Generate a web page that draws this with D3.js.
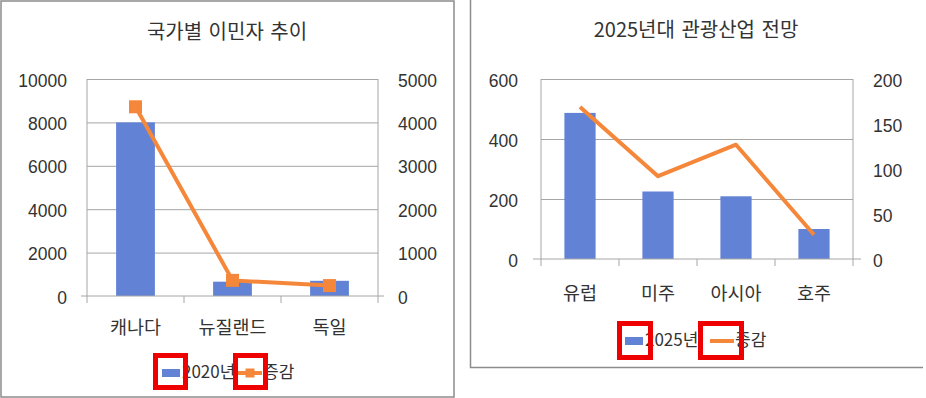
<!DOCTYPE html>
<html>
<head>
<meta charset="utf-8">
<script src="https://cdn.jsdelivr.net/npm/d3@7"></script>
<style>
  body { margin: 0; background: #fff; }
  svg { display: block; font-family: "Noto Sans CJK KR", "Noto Sans", sans-serif; }
  text { fill: #333; }
</style>
</head>
<body>
<script>
// chart 1 data
var immCats = ['캐나다', '뉴질랜드', '독일'];
var imm2020 = [8000, 660, 700];
var immChange = [4360, 360, 240];
var immTicksL = [0, 2000, 4000, 6000, 8000, 10000];
var immTicksR = [0, 1000, 2000, 3000, 4000, 5000];

// chart 2 data
var tourCats = ['유럽', '미주', '아시아', '호주'];
var tour2025 = [487, 225, 209, 100];
var tourChange = [169, 92, 127, 27];
var tourTicksL = [0, 200, 400, 600];
var tourTicksR = [0, 50, 100, 150, 200];

var blue = '#6282d6',
    orange = '#f5873b',
    grid = '#a6a6a6',
    red = '#ee0000';

var svg = d3.select('body')
  .append('svg')
  .attr('width', 926)
  .attr('height', 398);

function drawChart(g, opt) {
  var x = d3.scaleBand().domain(opt.cats).range([opt.x0, opt.x1]);
  var yL = d3.scaleLinear().domain([0, d3.max(opt.ticksL)]).range([opt.y1, opt.y0]);
  var yR = d3.scaleLinear().domain([0, d3.max(opt.ticksR)]).range([opt.y1, opt.y0]);

  // title
  g.append('text')
    .attr('x', opt.cx).attr('y', opt.titleY)
    .attr('text-anchor', 'middle')
    .attr('dominant-baseline', 'middle')
    .style('font-size', '20px')
    .style('word-spacing', '2px')
    .text(opt.title);

  // gridlines
  g.append('g')
    .attr('transform', 'translate(' + opt.x0 + ',0)')
    .call(d3.axisRight(yL).tickValues(opt.ticksL.slice(1)).tickSize(opt.x1 - opt.x0).tickFormat(''))
    .call(function(s) {
      s.select('.domain').remove();
      s.selectAll('line').attr('stroke', grid);
    });

  // side lines of plot area
  g.selectAll('.side')
    .data([opt.x0, opt.x1])
    .enter().append('line')
    .attr('x1', function(d) { return d; }).attr('x2', function(d) { return d; })
    .attr('y1', opt.y0).attr('y2', opt.y1)
    .attr('stroke', grid);

  // left axis labels
  g.append('g')
    .attr('transform', 'translate(' + (opt.x0 - opt.padL) + ',0)')
    .call(d3.axisLeft(yL).tickValues(opt.ticksL).tickSize(0).tickPadding(0).tickFormat(d3.format('d')))
    .call(function(s) {
      s.select('.domain').remove();
      s.selectAll('text').style('font-size', '17.5px').attr('font-family', null).attr('fill', '#333').attr('dy', '0.4em');
    });

  // right axis labels
  g.append('g')
    .attr('transform', 'translate(' + (opt.x1 + opt.padR) + ',0)')
    .call(d3.axisRight(yR).tickValues(opt.ticksR).tickSize(0).tickPadding(0).tickFormat(d3.format('d')))
    .call(function(s) {
      s.select('.domain').remove();
      s.selectAll('text').style('font-size', '17.5px').attr('font-family', null).attr('fill', '#333').attr('dy', '0.4em');
    });

  // bars
  var bw = x.bandwidth();
  g.selectAll('.bar')
    .data(opt.bars)
    .enter().append('rect')
    .attr('x', function(d, i) { return x(opt.cats[i]) + bw * 0.3; })
    .attr('width', bw * 0.4)
    .attr('y', function(d) { return yL(d); })
    .attr('height', function(d) { return yL(0) - yL(d); })
    .attr('fill', blue);

  // category axis
  g.append('line')
    .attr('x1', opt.x0 - opt.ext).attr('x2', opt.x1 + opt.ext)
    .attr('y1', opt.y1).attr('y2', opt.y1)
    .attr('stroke', grid);
  var edges = opt.cats.map(function(c) { return x(c); }).concat([opt.x1]);
  g.selectAll('.tick-m')
    .data(edges)
    .enter().append('line')
    .attr('x1', function(d) { return d; }).attr('x2', function(d) { return d; })
    .attr('y1', opt.y1).attr('y2', opt.y1 + 7)
    .attr('stroke', grid);
  g.selectAll('.cat')
    .data(opt.cats)
    .enter().append('text')
    .attr('x', function(d) { return x(d) + bw / 2; })
    .attr('y', opt.catY)
    .attr('text-anchor', 'middle')
    .attr('dominant-baseline', 'middle')
    .style('font-size', '18.5px')
    .text(function(d) { return d; });

  // line series
  var line = d3.line()
    .x(function(d, i) { return x(opt.cats[i]) + bw / 2; })
    .y(function(d) { return yR(d); });
  g.append('path')
    .datum(opt.line)
    .attr('d', line)
    .attr('fill', 'none')
    .attr('stroke', orange)
    .attr('stroke-width', 4)
    .attr('stroke-linejoin', 'round');

  if (opt.markers) {
    g.selectAll('.mk')
      .data(opt.line)
      .enter().append('rect')
      .attr('x', function(d, i) { return x(opt.cats[i]) + bw / 2 - 6.5; })
      .attr('y', function(d) { return yR(d) - 6.5; })
      .attr('width', 13).attr('height', 13)
      .attr('fill', orange);
  }

  // legend
  var lg = g.append('g');
  lg.append('rect')
    .attr('x', opt.legX).attr('y', opt.legY - 4)
    .attr('width', 18).attr('height', 8)
    .attr('fill', blue);
  lg.append('text')
    .attr('x', opt.legX + 20).attr('y', opt.legY)
    .attr('dominant-baseline', 'middle')
    .style('font-size', '17px')
    .text(opt.barName);
  lg.append('line')
    .attr('x1', opt.legX2).attr('x2', opt.legX2 + 24)
    .attr('y1', opt.legY).attr('y2', opt.legY)
    .attr('stroke', orange).attr('stroke-width', 4);
  if (opt.markers) {
    lg.append('rect')
      .attr('x', opt.legX2 + 7.5).attr('y', opt.legY - 4.5)
      .attr('width', 9).attr('height', 9)
      .attr('fill', orange);
  }
  lg.append('text')
    .attr('x', opt.legX2 + 25).attr('y', opt.legY)
    .attr('dominant-baseline', 'middle')
    .style('font-size', '17px')
    .text(opt.lineName);

  // red highlight boxes
  g.selectAll('.hl')
    .data(opt.boxes)
    .enter().append('rect')
    .attr('x', function(d) { return d[0]; })
    .attr('y', function(d) { return d[1]; })
    .attr('width', function(d) { return d[2]; })
    .attr('height', function(d) { return d[3]; })
    .attr('fill', 'none')
    .attr('stroke', red)
    .attr('stroke-width', 5);
}

// panel frames
svg.append('rect')
  .attr('x', 1).attr('y', 1).attr('width', 453).attr('height', 396)
  .attr('fill', 'none').attr('stroke', '#8c8c8c').attr('stroke-width', 1.5);
svg.append('path')
  .attr('d', 'M470.5,0V367.5H923')
  .attr('fill', 'none').attr('stroke', '#8c8c8c').attr('stroke-width', 1.5);

drawChart(svg.append('g'), {
  title: '국가별 이민자 추이', cx: 227, titleY: 34,
  cats: immCats, bars: imm2020, line: immChange,
  ticksL: immTicksL, ticksR: immTicksR,
  x0: 87, x1: 378, y0: 79, y1: 296, ext: 6, padL: 20, padR: 20,
  catY: 329, markers: true,
  barName: '2020년', lineName: '증감',
  legX: 162, legX2: 238, legY: 373,
  boxes: [[155.5, 355.5, 30, 32], [235.5, 355.5, 30, 32]]
});

drawChart(svg.append('g'), {
  title: '2025년대 관광산업 전망', cx: 696, titleY: 32,
  cats: tourCats, bars: tour2025, line: tourChange,
  ticksL: tourTicksL, ticksR: tourTicksR,
  x0: 541, x1: 853, y0: 79, y1: 259, ext: 8, padL: 23, padR: 20,
  catY: 295, markers: false,
  barName: '2025년', lineName: '증감',
  legX: 625, legX2: 710, legY: 341,
  boxes: [[619.5, 323.5, 31, 34], [700.5, 323.5, 41, 34]]
});
</script>
</body>
</html>
